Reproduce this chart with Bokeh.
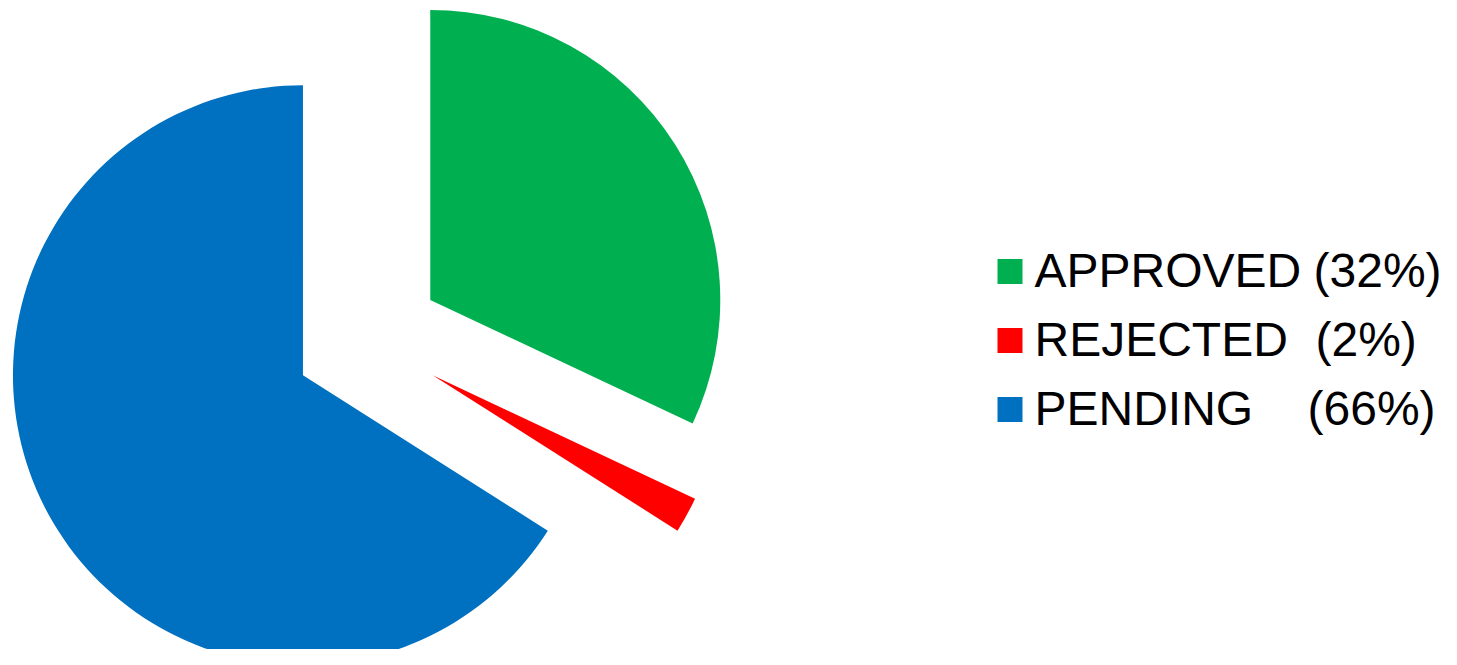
import math
from bokeh.plotting import figure
from bokeh.models import ColumnDataSource
from bokeh.core.properties import value
from bokeh.embed import file_html
from bokeh.resources import INLINE

# ---- data ----
categories = ["APPROVED", "REJECTED", "PENDING"]
percents = [32, 2, 66]
pct_labels = ["(32%)", "(2%)", "(66%)"]
colors = ["#00B050", "#FF0000", "#0070C0"]

# ---- layout (pixel-like data units) ----
W, H = 1441, 649
TOTAL_H = 665
def sy(y_screen):
    return TOTAL_H - y_screen

cx, cy = 367.3, sy(339.1)
radius = 290
explode = 74

p = figure(width=W, height=H, x_range=(0, W), y_range=(sy(H), sy(0)),
           output_backend="svg", toolbar_location=None, min_border=0)
p.axis.visible = False
p.grid.visible = False
p.outline_line_color = None
p.background_fill_color = "white"
p.border_fill_color = "white"

total = sum(percents)
xs, ys, starts, ends = [], [], [], []
cum = 0.0
for v in percents:
    a0 = 90 - cum / total * 360
    cum += v
    a1 = 90 - cum / total * 360
    mid = math.radians((a0 + a1) / 2)
    xs.append(cx + explode * math.cos(mid))
    ys.append(cy + explode * math.sin(mid))
    starts.append(math.radians(a0))
    ends.append(math.radians(a1))

src = ColumnDataSource(dict(x=xs, y=ys, start=starts, end=ends, color=colors))
p.wedge(x="x", y="y", radius=radius, start_angle="start", end_angle="end",
        direction="clock", fill_color="color", line_color=None, source=src)

# ---- legend drawn manually ----
row0, step = 271, 69
pct_x = [1313, 1315, 1307]
sq_y = [sy(row0 + step * i) for i in range(len(categories))]
base_y = [sy(row0 + step * i - 1) for i in range(len(categories))]
p.rect(x=[1009.5] * 3, y=sq_y, width=25, height=25, fill_color=colors, line_color=None)
p.text(x=[1034] * 3, y=base_y, text=categories, text_font=value("Liberation Sans"),
       text_font_size="48px", text_color="black", text_baseline="alphabetic",
       text_align="left")
p.text(x=pct_x, y=base_y, text=pct_labels, text_font=value("Liberation Sans"),
       text_font_size="48px", text_color="black", text_baseline="alphabetic",
       text_align="left")

open("out.html", "w").write(file_html(p, INLINE))
